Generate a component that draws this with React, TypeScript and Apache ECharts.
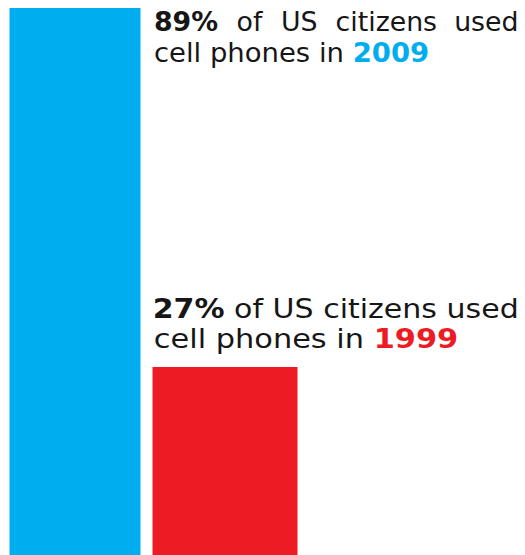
import React, { useEffect, useRef } from "react";
import * as echarts from "echarts";

const categories = ["2009", "1999"];
const shares = [89, 27];
const barColors = ["#00AEEF", "#ED1C24"];
const barWidths = [131, 145];

const sentenceLine1 = ["of", "US", "citizens", "used"];
const sentenceLine2 = ["cell", "phones", "in"];

// layout only: ink extents of each text line, baselines
const line1Extent = [155, 517];
const line2Extents = [
  [155, 428],
  [155, 457],
];
const justifiedScale = 1.03; // first block, line 1 is justified
const baselines = [
  [32, 62],
  [319, 349],
];

const FONT = "DejaVu Sans";
const FS = 26;
const INK = "#161616";

type W = { t: string; bold: boolean; fill: string };

export default function App() {
  const ref = useRef<HTMLDivElement>(null);
  useEffect(() => {
    if (!ref.current) return;
    const chart = echarts.init(ref.current, undefined, { renderer: "svg" });
    const ctx = document.createElement("canvas").getContext("2d")!;
    const measure = (t: string, bold: boolean) => {
      ctx.font = `${bold ? "bold " : ""}${FS}px "${FONT}"`;
      const m = ctx.measureText(t);
      return {
        adv: m.width,
        lb: -(m.actualBoundingBoxLeft ?? -1),
        rb: m.actualBoundingBoxRight ?? m.width - 1,
      };
    };
    const spaceW = measure(" ", false).adv;
    const textEl = (w: W, x: number, baseline: number, sx: number) => ({
      type: "text",
      x,
      y: baseline - 9.4,
      scaleX: sx,
      style: {
        text: w.t,
        fontFamily: FONT,
        fontSize: FS,
        fontWeight: w.bold ? "bold" : "normal",
        fill: w.fill,
        verticalAlign: "middle",
        align: "left",
      },
    });
    // natural spacing, scaled to fit an ink extent
    const fitLine = (words: W[], ext: number[], baseline: number) => {
      const ms = words.map((w) => measure(w.t, w.bold));
      const offs: number[] = [];
      let cur = 0;
      ms.forEach((m, k) => {
        offs.push(cur);
        cur += m.adv + (k < ms.length - 1 ? spaceW : 0);
      });
      const inkL = ms[0].lb;
      const inkR = offs[offs.length - 1] + ms[ms.length - 1].rb;
      const s = (ext[1] - ext[0]) / (inkR - inkL);
      return words.map((w, k) => textEl(w, ext[0] + (offs[k] - inkL) * s, baseline, s));
    };
    // fixed scale, gaps stretched so the ink fills the extent
    const justifyLine = (words: W[], ext: number[], s: number, baseline: number) => {
      const ms = words.map((w) => measure(w.t, w.bold));
      const inks = ms.map((m) => (m.rb - m.lb) * s);
      const gap = (ext[1] - ext[0] - inks.reduce((a, b) => a + b, 0)) / (words.length - 1);
      let x = ext[0];
      return words.map((w, k) => {
        const el = textEl(w, x - ms[k].lb * s, baseline, s);
        x += inks[k] + gap;
        return el;
      });
    };

    const line1 = (i: number): W[] => [
      { t: `${shares[i]}%`, bold: true, fill: INK },
      ...sentenceLine1.map((t) => ({ t, bold: false, fill: INK })),
    ];
    const line2 = (i: number): W[] => [
      ...sentenceLine2.map((t) => ({ t, bold: false, fill: INK })),
      { t: categories[i], bold: true, fill: barColors[i] },
    ];

    const graphics: any[] = [
      ...justifyLine(line1(0), line1Extent, justifiedScale, baselines[0][0]),
      ...fitLine(line1(1), line1Extent, baselines[1][0]),
    ];
    categories.forEach((_, i) => {
      graphics.push(...fitLine(line2(i), line2Extents[i], baselines[i][1]));
    });

    chart.setOption({
      animation: false,
      grid: { left: 0, top: 8, width: 300, bottom: 0 },
      xAxis: { type: "category", data: categories, show: false },
      yAxis: { type: "value", min: -5.5, max: 89, show: false },
      series: [
        {
          type: "custom",
          data: shares.map((v, i) => [i, v]),
          renderItem: (params: any, api: any) => {
            const idx = params.dataIndex;
            const top = api.coord([api.value(0), api.value(1)]);
            const cs = params.coordSys;
            const bottom = cs.y + cs.height;
            const w = barWidths[idx];
            return {
              type: "rect",
              shape: { x: top[0] - w / 2, y: top[1], width: w, height: bottom - top[1] },
              style: { fill: barColors[idx] },
            };
          },
        },
      ],
      graphic: graphics,
    });
    return () => chart.dispose();
  }, []);
  return (
    <div
      ref={ref}
      style={{ position: "fixed", left: 0, top: 0, width: 525, height: 555, background: "#fff" }}
    />
  );
}
